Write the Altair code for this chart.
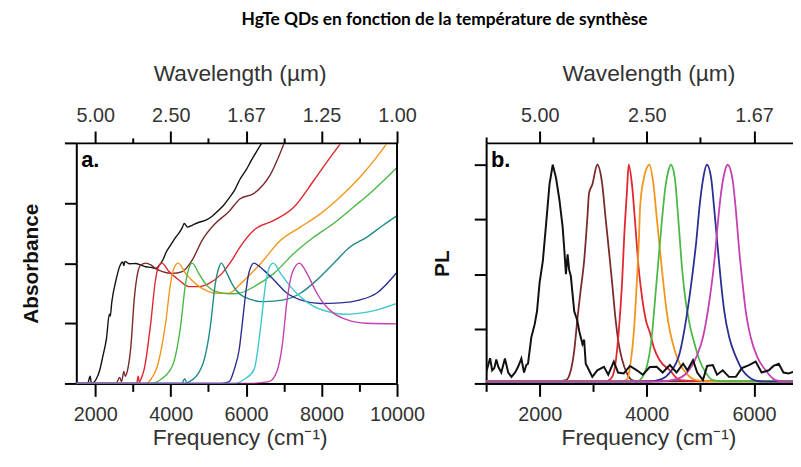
import altair as alt
import pandas as pd

FONT = "Liberation Sans"
TXT = "#333333"
TITLE = "HgTe QDs en fonction de la température de synthèse"

# ---------------- Panel a : absorbance ----------------
A_SERIES = ["black", "maroon", "red", "orange", "green", "teal", "blue", "cyan", "magenta"]
A_COLORS = ["#111111", "#7a2a2a", "#e0262e", "#f4951c", "#4cb847", "#1f8a86", "#2b2e93", "#3fc7cf", "#c43fb0"]

a_black_f = [1500, 1750, 1800, 1868, 1900, 1950, 2026, 2120, 2203, 2300, 2376, 2400, 2440, 2553, 2640, 2729, 2760, 2790,
             2900, 3079, 3200, 3342, 3480, 3605, 3680, 3737, 3800, 3868, 4000, 4132, 4220, 4308, 4360, 4450, 4571, 4750,
             4921, 5100, 5271, 5400, 5534, 5700, 5842, 6000, 6132, 6300, 6421]
a_black_v = [0, 0, 0, 0.12, 0, 0.01, 0.07, 0.22, 0.45, 0.75, 1.15, 1.12, 1.35, 1.72, 1.93, 2.02, 1.96, 2.03,
             1.99, 1.995, 1.97, 1.94, 1.93, 1.91, 1.95, 1.995, 2.06, 2.165, 2.3, 2.43, 2.5, 2.59, 2.66, 2.6, 2.63, 2.68,
             2.71, 2.78, 2.88, 2.96, 3.07, 3.22, 3.40, 3.55, 3.70, 3.88, 4.0]

a_maroon_f = [1500, 2550, 2650, 2700, 2760, 2800, 2861, 2947, 3034, 3124, 3211, 3342, 3474, 3605, 3782, 4045, 4308,
              4571, 4834, 5184, 5534, 5842, 6211, 6650, 7000]
a_maroon_v = [0, 0, 0.1, 0.03, 0.2, 0.12, 0.23, 0.62, 1.39, 1.83, 1.97, 2.0, 1.97, 1.91, 1.86, 1.83, 1.86,
              2.05, 2.38, 2.66, 2.85, 3.07, 3.16, 3.48, 3.98]

a_red_f = [1500, 3100, 3140, 3170, 3211, 3297, 3474, 3587, 3676, 3763, 3955, 4218, 4482, 4745, 5008, 5361, 5624,
           5842, 6211, 6737, 7263, 7789, 8229, 8492]
a_red_v = [0, 0, 0.12, 0.02, 0.07, 0.23, 1.01, 1.67, 1.94, 2.0, 1.86, 1.72, 1.61, 1.61, 1.66, 1.83, 2.05,
           2.27, 2.55, 2.71, 2.93, 3.37, 3.76, 3.98]

a_orange_f = [1500, 3350, 3474, 3650, 3868, 4000, 4087, 4203, 4395, 4658, 4921, 5184, 5534, 5858, 6387, 6913, 7439,
              7966, 8492, 9016, 9455, 9718]
a_orange_v = [0, 0, 0.066, 0.29, 1.01, 1.67, 1.91, 2.0, 1.83, 1.66, 1.55, 1.50, 1.50, 1.66, 1.995, 2.38, 2.60,
              2.82, 3.10, 3.43, 3.76, 3.98]

a_green_f = [1500, 3500, 3737, 4045, 4263, 4395, 4482, 4571, 4745, 4921, 5184, 5534, 5816, 6211, 6737, 7263, 7789,
             8316, 8842, 9368, 10000]
a_green_v = [0, 0, 0.066, 0.29, 0.95, 1.66, 1.91, 2.0, 1.83, 1.66, 1.53, 1.49, 1.50, 1.61, 1.83, 2.16, 2.43,
             2.66, 2.93, 3.21, 3.59]

a_teal_f = [1500, 4300, 4370, 4430, 4500, 4834, 5053, 5184, 5271, 5342, 5492, 5624, 5737, 5947, 6474, 7000, 7439,
            7876, 8316, 8755, 9192, 9632, 10000]
a_teal_v = [0, 0, 0.08, 0.01, 0.03, 0.29, 0.95, 1.66, 1.91, 2.0, 1.83, 1.66, 1.55, 1.44, 1.36, 1.39, 1.50,
            1.72, 1.995, 2.27, 2.43, 2.63, 2.79]

a_blue_f = [1500, 5342, 5553, 5684, 5816, 5921, 6000, 6079, 6211, 6342, 6474, 6737, 7087, 7439, 7966, 8492, 9018,
            9455, 10000]
a_blue_v = [0, 0, 0.03, 0.23, 0.56, 1.12, 1.55, 1.85, 2.0, 1.95, 1.88, 1.72, 1.50, 1.39, 1.33, 1.34, 1.39,
            1.50, 1.85]

a_cyan_f = [1500, 5684, 5947, 6211, 6387, 6518, 6605, 6718, 6913, 7176, 7439, 7789, 8139, 8579, 9018, 9455, 10000]
a_cyan_v = [0, 0, 0.066, 0.23, 0.95, 1.66, 1.91, 2.0, 1.83, 1.61, 1.44, 1.28, 1.20, 1.15, 1.17, 1.22, 1.33]

a_magenta_f = [1500, 6079, 6605, 6816, 6955, 7087, 7218, 7413, 7613, 7834, 8053, 8316, 8666, 9192, 10000]
a_magenta_v = [0, 0, 0.03, 0.2, 0.62, 1.39, 1.83, 2.0, 1.83, 1.55, 1.33, 1.17, 1.06, 1.00, 0.99]

A_BOTTOM_MAJOR = [2000, 4000, 6000, 8000, 10000]
A_MINOR = [3000, 5000, 7000, 9000]
A_Y_TICKS = [0, 1, 2, 3, 4]

# ---------------- Panel b : photoluminescence ----------------
b_black_f = [1000, 1074, 1113, 1153, 1190, 1227, 1283, 1351, 1412, 1473, 1542, 1597, 1658, 1708, 1750, 1782, 1843,
             1906, 1950, 1998, 2059, 2120, 2183, 2244, 2305, 2368, 2429, 2460, 2490, 2521, 2550, 2582, 2645, 2700,
             2738, 2799, 2830, 2860, 2922, 2983, 3076, 3200, 3280, 3384, 3464, 3569, 3686, 3815, 3926, 4056, 4185,
             4296, 4431, 4555, 4678, 4758, 4863, 4942, 5048, 5127, 5233, 5312, 5418, 5534, 5663, 5775, 5909, 6033,
             6144, 6279, 6366, 6464, 6551, 6649, 6730]
b_black_v = [0.05, 0.115, 0.06, 0.07, 0.11, 0.076, 0.05, 0.114, 0.05, 0.03, 0.05, 0.076, 0.114, 0.05, 0.084, 0.09, 0.21,
             0.27, 0.33, 0.46, 0.56, 0.73, 0.91, 1.0, 0.94, 0.84, 0.715, 0.61, 0.50, 0.59, 0.52, 0.49, 0.33, 0.29,
             0.24, 0.18, 0.2, 0.09, 0.06, 0.03, 0.06, 0.076, 0.04, 0.10, 0.05, 0.046, 0.08, 0.06, 0.04, 0.075, 0.076,
             0.05, 0.084, 0.05, 0.09, 0.06, 0.106, 0.05, 0.015, 0.08, 0.084, 0.04, 0.06, 0.03, 0.03, 0.07, 0.084, 0.10,
             0.05, 0.06, 0.08, 0.09, 0.05, 0.046, 0.053]

b_maroon_f = [1000, 2336, 2490, 2582, 2645, 2706, 2767, 2830, 2891, 2922, 2983, 3076, 3168, 3229, 3292, 3353, 3414,
              3477, 3538, 3630, 3723, 3815, 6730]
b_maroon_v = [0.01, 0.01, 0.015, 0.06, 0.15, 0.30, 0.43, 0.56, 0.76, 0.87, 0.91, 1.0, 0.91, 0.76, 0.61, 0.46, 0.30,
              0.18, 0.11, 0.046, 0.015, 0.01, 0.01]

b_red_f = [1000, 3261, 3353, 3414, 3477, 3538, 3580, 3630, 3662, 3723, 3784, 3847, 3908, 3982, 4061, 4129, 4240,
           4431, 4616, 4832, 6730]
b_red_v = [0.012, 0.012, 0.03, 0.09, 0.24, 0.46, 0.68, 0.88, 1.0, 0.91, 0.73, 0.53, 0.40, 0.29, 0.23, 0.166, 0.106,
           0.06, 0.015, 0.012, 0.012]

b_orange_f = [1000, 3538, 3632, 3704, 3760, 3815, 3852, 3876, 3939, 4050, 4124, 4185, 4246, 4309, 4370, 4431, 4523,
              4616, 4739, 4924, 5109, 6730]
b_orange_v = [0.01, 0.01, 0.02, 0.106, 0.24, 0.47, 0.65, 0.81, 0.93, 1.0, 0.91, 0.76, 0.61, 0.46, 0.33, 0.24, 0.15,
              0.09, 0.046, 0.015, 0.01, 0.01]

b_green_f = [1000, 3815, 3908, 4000, 4092, 4153, 4216, 4277, 4338, 4401, 4449, 4523, 4586, 4647, 4708, 4800, 4893,
             4985, 5109, 5233, 5386, 6730]
b_green_v = [0.01, 0.01, 0.025, 0.076, 0.21, 0.38, 0.56, 0.73, 0.88, 0.97, 1.0, 0.94, 0.76, 0.56, 0.41, 0.27, 0.18,
             0.106, 0.046, 0.015, 0.01, 0.01]

b_blue_f = [1000, 4000, 4277, 4431, 4616, 4739, 4832, 4924, 4985, 5048, 5122, 5201, 5262, 5325, 5386, 5447, 5540,
            5667, 5787, 5941, 6094, 6310, 6730]
b_blue_v = [0.008, 0.008, 0.02, 0.05, 0.14, 0.30, 0.46, 0.65, 0.81, 0.93, 1.0, 0.94, 0.79, 0.62, 0.46, 0.33, 0.21,
            0.12, 0.06, 0.023, 0.01, 0.008, 0.008]

b_magenta_f = [1000, 4187, 4556, 4739, 4924, 5048, 5170, 5262, 5325, 5386, 5447, 5510, 5603, 5664, 5725, 5787, 5848,
               5941, 6065, 6218, 6403, 6588, 6730]
b_magenta_v = [0.008, 0.008, 0.02, 0.046, 0.12, 0.21, 0.38, 0.56, 0.73, 0.87, 0.96, 1.0, 0.93, 0.79, 0.61, 0.46,
               0.33, 0.21, 0.12, 0.06, 0.015, 0.008, 0.008]

B_BOTTOM_MAJOR = [2000, 4000, 6000]
B_BOTTOM_MINOR = [1000, 3000, 5000]
B_TOP_MINOR = [1000, 3000, 5000]
B_Y_TICKS = [0, 0.25, 0.5, 0.75, 1.0]


def long_df(series):
    rows = []
    for name, fs, vs in series:
        for i, (f, v) in enumerate(zip(fs, vs)):
            rows.append({"s": name, "f": f, "v": v, "i": i})
    return pd.DataFrame(rows)


df_a = long_df([
    ("black", a_black_f, a_black_v), ("maroon", a_maroon_f, a_maroon_v), ("red", a_red_f, a_red_v),
    ("orange", a_orange_f, a_orange_v), ("green", a_green_f, a_green_v), ("teal", a_teal_f, a_teal_v),
    ("blue", a_blue_f, a_blue_v), ("cyan", a_cyan_f, a_cyan_v), ("magenta", a_magenta_f, a_magenta_v),
])
df_b_col = long_df([
    ("maroon", b_maroon_f, b_maroon_v), ("red", b_red_f, b_red_v), ("orange", b_orange_f, b_orange_v),
    ("green", b_green_f, b_green_v), ("blue", b_blue_f, b_blue_v), ("magenta", b_magenta_f, b_magenta_v),
])
df_b_blk = long_df([("black", b_black_f, b_black_v)])

color_scale = alt.Scale(domain=A_SERIES, range=A_COLORS)


def xaxis(orient, values, size, labels=False, title=None, domain=False, label_expr=None, title_x=None,
          title_pad=6, label_pad=6):
    kw = dict(orient=orient, values=values, tickSize=size, tickWidth=2, tickColor="black", labels=labels,
              domain=domain, domainWidth=2, domainColor="black", grid=False, labelFont=FONT, labelFontSize=20,
              labelColor=TXT, labelPadding=label_pad, labelFlush=False, labelOverlap=False, labelBound=False,
              titleFont=FONT, titleFontSize=23, titleFontWeight="normal", titleColor=TXT, titlePadding=title_pad,
              title=title, format="d")
    if label_expr is not None:
        kw["labelExpr"] = label_expr
    if title_x is not None:
        kw["titleX"] = title_x
    return alt.Axis(**kw)


def yaxis(values, title, pad):
    return alt.Axis(orient="left", values=values, tickSize=12, tickWidth=2, tickColor="black", labels=False,
                    domain=True, domainWidth=2, domainColor="black", grid=False, title=title, titleFont=FONT,
                    titleFontSize=21, titleFontWeight="bold", titleColor="#111111", titlePadding=pad)


WL_EXPR = "format(10000 / datum.value, '.2f')"
FREQ_TITLE = "Frequency (cm⁻¹)"
WL_TITLE = "Wavelength (µm)"

# ---------- panel a ----------
W_A, H = 324, 243
xsa = alt.Scale(domain=[1500, 10000], nice=False, zero=False)
ysa = alt.Scale(domain=[0, 4], nice=False, zero=True)

a_curves = alt.Chart(df_a).mark_line(clip=True, strokeWidth=1.4, interpolate="monotone").encode(
    x=alt.X("f:Q", scale=xsa,
            axis=xaxis("bottom", A_BOTTOM_MAJOR, 13, labels=True, title=FREQ_TITLE, domain=True, title_x=165,
                       title_pad=3, label_pad=8)),
    y=alt.Y("v:Q", scale=ysa, axis=yaxis(A_Y_TICKS, "Absorbance", 22)),
    color=alt.Color("s:N", scale=color_scale, legend=None),
    order=alt.Order("i:Q"),
)
a_bottom_minor = alt.Chart(pd.DataFrame({"f": A_MINOR})).mark_rule(opacity=0).encode(
    x=alt.X("f:Q", scale=xsa, axis=xaxis("bottom", A_MINOR, 8)))
a_top_major = alt.Chart(pd.DataFrame({"f": [10000]})).mark_rule(color="black", strokeWidth=2).encode(
    x=alt.X("f:Q", scale=xsa,
            axis=xaxis("top", A_BOTTOM_MAJOR, 12, labels=True, title=WL_TITLE, domain=True,
                       label_expr=WL_EXPR, title_x=165, title_pad=20)))
a_top_minor = alt.Chart(pd.DataFrame({"f": A_MINOR})).mark_rule(opacity=0).encode(
    x=alt.X("f:Q", scale=xsa, axis=xaxis("top", A_MINOR, 5)))
a_label = alt.Chart(pd.DataFrame({"t": ["a."]})).mark_text(
    font=FONT, fontSize=22, fontWeight="bold", color="black", align="left", baseline="alphabetic").encode(
    text="t:N", x=alt.value(5), y=alt.value(24))

panel_a = alt.layer(a_curves, a_bottom_minor, a_top_major, a_top_minor, a_label).resolve_axis(
    x="independent").properties(width=W_A, height=H)

# ---------- panel b ----------
W_B = 310
xsb = alt.Scale(domain=[1000, 6730], nice=False, zero=False)
ysb = alt.Scale(domain=[0, 1.1], nice=False, zero=True)
yaxis_b = yaxis(B_Y_TICKS, "PL", 21)

b_curves = alt.Chart(df_b_col).mark_line(clip=True, strokeWidth=1.8, interpolate="monotone").encode(
    x=alt.X("f:Q", scale=xsb,
            axis=xaxis("bottom", B_BOTTOM_MAJOR, 13, labels=True, title=FREQ_TITLE, domain=True, title_x=164,
                       title_pad=3, label_pad=8)),
    y=alt.Y("v:Q", scale=ysb, axis=yaxis_b),
    color=alt.Color("s:N", scale=color_scale, legend=None),
    order=alt.Order("i:Q"),
)
b_black = alt.Chart(df_b_blk).mark_line(clip=True, strokeWidth=2).encode(
    x=alt.X("f:Q", scale=xsb, axis=None),
    y=alt.Y("v:Q", scale=ysb, axis=yaxis_b),
    color=alt.Color("s:N", scale=color_scale, legend=None),
    order=alt.Order("i:Q"),
)
b_bottom_minor = alt.Chart(pd.DataFrame({"f": B_BOTTOM_MINOR})).mark_rule(opacity=0).encode(
    x=alt.X("f:Q", scale=xsb, axis=xaxis("bottom", B_BOTTOM_MINOR, 8)))
b_top_major = alt.Chart(pd.DataFrame({"f": B_BOTTOM_MAJOR})).mark_rule(opacity=0).encode(
    x=alt.X("f:Q", scale=xsb,
            axis=xaxis("top", B_BOTTOM_MAJOR, 12, labels=True, title=WL_TITLE, domain=True,
                       label_expr=WL_EXPR, title_x=164, title_pad=20)))
b_top_minor = alt.Chart(pd.DataFrame({"f": B_TOP_MINOR})).mark_rule(opacity=0).encode(
    x=alt.X("f:Q", scale=xsb, axis=xaxis("top", B_TOP_MINOR, 6)))
b_label = alt.Chart(pd.DataFrame({"t": ["b."]})).mark_text(
    font=FONT, fontSize=22, fontWeight="bold", color="black", align="left", baseline="alphabetic").encode(
    text="t:N", x=alt.value(5), y=alt.value(24))

panel_b = alt.layer(b_curves, b_black, b_bottom_minor, b_top_major, b_top_minor, b_label).resolve_axis(
    x="independent").properties(width=W_B, height=H)

chart = alt.hconcat(panel_a, panel_b, spacing=7).properties(
    title=alt.TitleParams(text=TITLE, font="Lato", fontSize=17.5, fontWeight="bold", color="black",
                          anchor="start", dx=223, dy=-2, offset=33),
    padding={"left": 13, "top": 0, "right": 0, "bottom": 0},
).configure_view(stroke=None)

chart.save("out.html", embed_options={"renderer": "svg", "actions": False})
